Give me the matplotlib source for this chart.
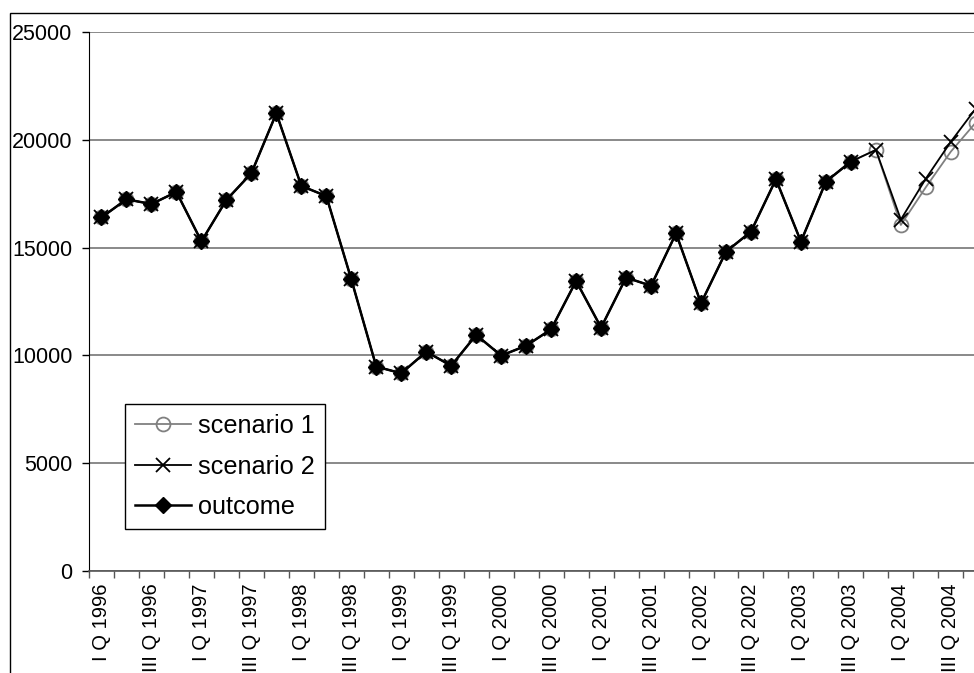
import matplotlib
matplotlib.use("Agg")
import matplotlib.pyplot as plt
from matplotlib.patches import Rectangle
import numpy as np

plt.rcParams['font.family'] = ['Liberation Sans', 'DejaVu Sans']

# quarters 1996 Q1 .. 2004 Q4
years = list(range(1996, 2005))
quarter_names = ["I", "II", "III", "IV"]
categories = [f"{q} Q {y}" for y in years for q in quarter_names]

# outcome: 1996 Q1 .. 2003 Q3
outcome = [16400, 17240, 17020, 17580, 15290, 17210, 18450, 21230,
           17860, 17390, 13530, 9480, 9170, 10170, 9520, 10950,
           9990, 10450, 11210, 13450, 11290, 13610, 13230, 15660,
           12420, 14810, 15740, 18170, 15280, 18060, 18990]

# forecasts: 2003 Q4 .. 2004 Q4
forecast_1 = [19530, 16050, 17800, 19450, 20800]
forecast_2 = [19530, 16300, 18200, 19910, 21450]

scenario_1 = outcome + forecast_1
scenario_2 = outcome + forecast_2

W, H = 974, 673
fig = plt.figure(figsize=(W / 100, H / 100), dpi=100)

# outer chart frame (only left and top edges visible)
fig.patches.append(Rectangle((10 / W, -0.2), 1.5, 1.2 - 13 / H,
                             transform=fig.transFigure, fill=False,
                             edgecolor='black', linewidth=1.0))

n = len(categories)
cat_w = 24.98
ax = fig.add_axes([89 / W, (H - 571) / H, n * cat_w / W, (571 - 32) / H])

x_all = np.arange(n)
x_out = np.arange(len(outcome))

ax.plot(x_all, scenario_1, color='#808080', linewidth=1.3, marker='o',
        markersize=10, markerfacecolor='none', markeredgecolor='#808080',
        markeredgewidth=1.3, label='scenario 1', zorder=3)
ax.plot(x_all, scenario_2, color='black', linewidth=1.3, marker='x',
        markersize=10, markeredgewidth=1.3, label='scenario 2', zorder=4)
ax.plot(x_out, outcome, color='black', linewidth=1.8, marker='D',
        markersize=8, markerfacecolor='black', markeredgecolor='black',
        label='outcome', zorder=5)

ax.set_xlim(-0.5, n - 0.5)
ax.set_ylim(0, 25000)
ax.set_yticks(np.arange(0, 25001, 5000))
ax.yaxis.grid(True, color='#808080', linewidth=1.3)
ax.set_axisbelow(True)

# labels on every other quarter, ticks between categories
ax.set_xticks(x_all[::2])
ax.set_xticklabels(categories[::2], rotation=90, fontsize=14.5)
ax.set_xticks(np.arange(-0.5, n, 1), minor=True)
ax.tick_params(axis='x', which='major', length=0, pad=9)
ax.tick_params(axis='x', which='minor', length=5, width=1, color='#555555',
               direction='out')
ax.tick_params(axis='y', length=5, width=1, direction='out', pad=7,
               labelsize=15.5)

for s in ['top', 'right']:
    ax.spines[s].set_visible(False)
ax.spines['left'].set_color('black')
ax.spines['bottom'].set_color('#555555')
ax.spines['bottom'].set_linewidth(1.2)

leg = ax.legend(loc='upper left', bbox_to_anchor=((125 - 89) / (n * cat_w), (571 - 404) / (571 - 32)),
                fontsize=18.2, frameon=True, fancybox=False, framealpha=1,
                edgecolor='black', borderpad=0.4, handlelength=2.2,
                handletextpad=0.28, labelspacing=0.65, borderaxespad=0)
leg.get_frame().set_linewidth(1.0)

fig.savefig("out.png", dpi=100)
